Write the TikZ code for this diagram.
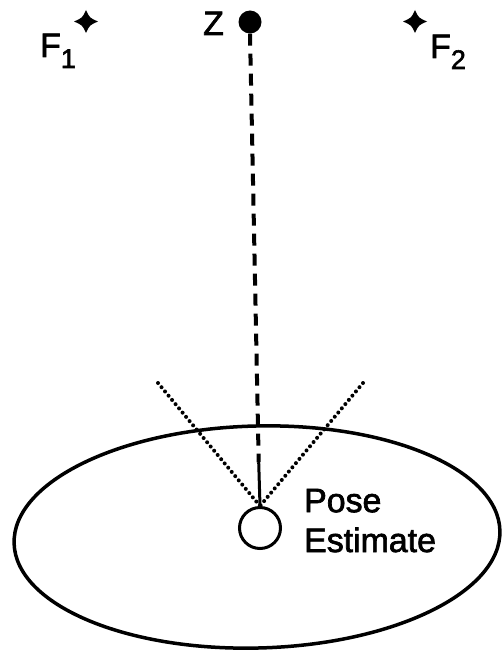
\documentclass[tikz,border=0pt]{standalone}
\usepackage{fontspec}
\setmainfont{Liberation Sans}
\usetikzlibrary{calc}
\newcommand{\xsub}[1]{\raisebox{-11bp}{\fontsize{27}{27}\selectfont #1}}
\newcommand{\xstar}[3]{%
    \coordinate (#1) at (#2,#3);%
    \fill[shift={(#2,#3)}]
        (12,0) .. controls (3.6,3.6) .. (0,11.5) .. controls (-3.6,3.6) .. (-12,0)
        .. controls (-3.6,-3.6) .. (0,-11.5) .. controls (3.6,-3.6) .. (12,0) -- cycle;
}
\tikzset{
    lbl/.style={font=\fontsize{34}{40}\selectfont\addfontfeature{FakeBold=2}, inner sep=0pt},
    zline/.style={line width=4bp, dash pattern=on 12bp off 8bp},
    sightline/.style={line width=4bp, line cap=round, dash pattern=on 0bp off 5.5bp}
}
\begin{document}
\begin{tikzpicture}[x=1bp, y=-1bp]

        \useasboundingbox (0,0) rectangle (502,653);
        \fill[white] (0,0) rectangle (502,653);

        % ---------------- features ----------------
        \xstar{f1}{86}{21.5}
        \node[lbl, anchor=base west] (f1lbl) at (40,57) {F\xsub{1}};
        \xstar{f2}{415}{21.5}
        \node[lbl, anchor=base west] (f2lbl) at (430,58) {F\xsub{2}};

        % Z : measured point
        \node[circle, fill, minimum size=23bp, inner sep=0pt] (zdot) at (250,22) {};
        \node[lbl, anchor=base west] (zlbl) at (203,35) {Z};

        % ---------------- pose ----------------
        \draw[line width=3.5bp, rotate around={1.5:(257,537)}]
            (257,537) ellipse [x radius=243, y radius=111];
        \node[draw, circle, line width=3bp, minimum size=41bp, inner sep=0pt] (pose) at (260,528) {};
        \node[lbl, align=left, anchor=base west] (poselbl) at (304,552) {Pose\\Estimate};

        % line of sight to Z
        \coordinate (solid) at ($(zdot)!0.87!(pose)$);
        \draw[zline] (zdot.south) -- (solid);
        \draw[line width=3bp] (solid) -- (pose.north);

        % field of view
        \coordinate (fovl) at (158,383);
        \coordinate (fovr) at (363,383);
        \draw[sightline] (fovl) -- (pose.north);
        \draw[sightline] (fovr) -- (pose.north);

    \end{tikzpicture}
\end{document}
